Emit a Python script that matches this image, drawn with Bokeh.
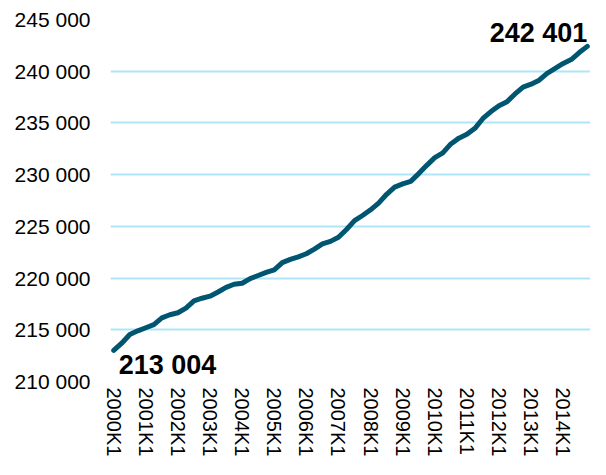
import math
from bokeh.plotting import figure
from bokeh.models import FixedTicker, Range1d, Label, ColumnDataSource
from bokeh.embed import file_html
from bokeh.resources import INLINE

years = list(range(2000, 2015))
quarters = [f"{y}K{q}" for y in years for q in range(1, 5)]
values = [
    213004, 213700, 214550, 214900, 215200, 215500, 216150, 216450,
    216650, 217100, 217800, 218050, 218250, 218650, 219100, 219400,
    219500, 219950, 220250, 220550, 220800, 221500, 221800, 222050,
    222350, 222800, 223300, 223550, 223950, 224700, 225550, 226050,
    226600, 227250, 228100, 228800, 229100, 229350, 230100, 230900,
    231640, 232100, 232970, 233530, 233900, 234480, 235430, 236100,
    236670, 237050, 237800, 238470, 238750, 239130, 239800, 240270,
    240750, 241130, 241800, 242401,
]
y_ticks = [210000, 215000, 220000, 225000, 230000, 235000, 240000, 245000]
x_tick_idx = [i for i, q in enumerate(quarters) if q.endswith("K1")]

idx = list(range(len(quarters)))
src = ColumnDataSource(data=dict(x=idx, y=values))

p = figure(width=590, height=459, output_backend="svg", toolbar_location=None,
           x_range=Range1d(-0.4, len(quarters) - 0.6),
           y_range=Range1d(y_ticks[0], y_ticks[-1]),
           min_border_left=110, min_border_right=0, min_border_top=19,
           min_border_bottom=76)
p.outline_line_color = None
p.background_fill_color = "white"
p.border_fill_color = "white"

p.ygrid.grid_line_color = "#aee6f7"
p.ygrid.grid_line_width = 2
p.ygrid.ticker = FixedTicker(ticks=y_ticks)
p.xgrid.grid_line_color = None

p.line("x", "y", source=src, line_color="#005670", line_width=5,
       line_join="round", line_cap="round")

# y axis
p.yaxis.ticker = FixedTicker(ticks=y_ticks)
p.yaxis.major_label_overrides = {t: f"{t:,}".replace(",", " ") for t in y_ticks}
p.yaxis.axis_line_color = None
p.yaxis.major_tick_line_color = None
p.yaxis.major_tick_out = 0
p.yaxis.major_tick_in = 0
p.yaxis.minor_tick_line_color = None
p.yaxis.major_label_text_font = "Liberation Sans"
p.yaxis.major_label_text_font_size = "21px"
p.yaxis.major_label_text_color = "#000000"
p.yaxis.major_label_standoff = 20

# x axis
p.xaxis.ticker = FixedTicker(ticks=x_tick_idx)
p.xaxis.major_label_overrides = {i: quarters[i] for i in x_tick_idx}
p.xaxis.major_label_orientation = -math.pi / 2
p.xaxis.axis_line_color = None
p.xaxis.major_tick_line_color = None
p.xaxis.major_tick_out = 0
p.xaxis.major_tick_in = 0
p.xaxis.minor_tick_line_color = None
p.xaxis.major_label_text_font = "Liberation Sans"
p.xaxis.major_label_text_font_size = "20px"
p.xaxis.major_label_text_color = "#000000"
p.xaxis.major_label_standoff = 6

fmt = lambda v: f"{v:,}".replace(",", " ")
p.add_layout(Label(x=0, y=values[0], text=fmt(values[0]), x_offset=5, y_offset=0,
                   text_align="left", text_baseline="top",
                   text_font="Liberation Sans", text_font_style="bold",
                   text_font_size="27px", text_color="#000000"))
p.add_layout(Label(x=len(values) - 1, y=values[-1], text=fmt(values[-1]), x_offset=0, y_offset=-2,
                   text_align="right", text_baseline="bottom",
                   text_font="Liberation Sans", text_font_style="bold",
                   text_font_size="27px", text_color="#000000"))

open("out.html", "w").write(file_html(p, INLINE))
